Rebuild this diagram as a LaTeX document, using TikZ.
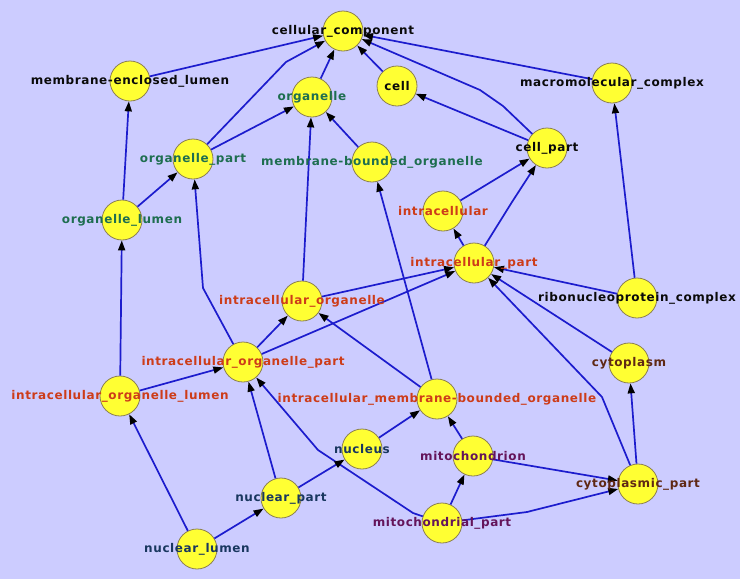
\documentclass[tikz,border=0pt]{standalone}
\usepackage{fontspec}
\newfontfamily\labfont{DejaVu Sans}[LetterSpace=5]
\usetikzlibrary{arrows.meta}
\definecolor{bg}{RGB}{204,204,255}
\definecolor{ndfill}{RGB}{255,255,51}
\definecolor{ndborder}{RGB}{140,128,80}
\definecolor{edgeblue}{RGB}{28,28,205}
\definecolor{tblack}{RGB}{10,10,10}
\definecolor{tgreen}{RGB}{30,110,80}
\definecolor{tred}{RGB}{205,60,25}
\definecolor{tblue}{RGB}{25,55,95}
\definecolor{tpurple}{RGB}{100,20,90}
\definecolor{tbrown}{RGB}{95,40,20}
\begin{document}
\begin{tikzpicture}[x=1pt,y=-1pt,
  nd/.style={circle, draw=ndborder, fill=ndfill, line width=0.8pt, minimum size=40pt, inner sep=0pt},
  lab/.style={font=\labfont\bfseries\fontsize{12}{14}\selectfont, inner sep=0pt},
  ed/.style={draw=edgeblue, line width=1.7pt, -{Triangle[length=10pt,width=7pt,color=black]}}]
\fill[bg] (0,0) rectangle (740,579);
\useasboundingbox (0,0) rectangle (740,579);
% circles
\node[nd] (cc) at (343,31) {};
\node[nd] (mel) at (130,81) {};
\node[nd] (org) at (312,97) {};
\node[nd] (cell) at (397,86) {};
\node[nd] (mmc) at (612,83) {};
\node[nd] (cp) at (547,148) {};
\node[nd] (op) at (193,159) {};
\node[nd] (mbo) at (372,162) {};
\node[nd] (ol) at (122,220) {};
\node[nd] (ic) at (443,211) {};
\node[nd] (icp) at (474,263) {};
\node[nd] (rnp) at (637,298) {};
\node[nd] (io) at (302,301) {};
\node[nd] (iop) at (243,362) {};
\node[nd] (cyt) at (629,363) {};
\node[nd] (iol) at (120,396) {};
\node[nd] (imbo) at (437,399) {};
\node[nd] (nuc) at (362,449) {};
\node[nd] (mit) at (473,456) {};
\node[nd] (np) at (281,498) {};
\node[nd] (cyp) at (638,484) {};
\node[nd] (mp) at (442,523) {};
\node[nd] (nl) at (197,549) {};
% bend points
\coordinate (b1) at (286,62);
\coordinate (b2) at (503,106);
\coordinate (b3) at (480,90);
\coordinate (b4) at (512,202);
\coordinate (b5) at (602,397);
\coordinate (b6) at (203,288);
\coordinate (b7) at (527,512);
\coordinate (b8) at (413,513);
\coordinate (b9) at (318,450);
% edges
\draw[ed] (mel) -- (cc);
\draw[ed] (op) -- (b1) -- (cc);
\draw[ed] (org) -- (cc);
\draw[ed] (cell) -- (cc);
\draw[ed] (cp) -- (b2) -- (b3) -- (cc);
\draw[ed] (mmc) -- (cc);
\draw[ed] (cp) -- (cell);
\draw[ed] (rnp) -- (mmc);
\draw[ed] (ol) -- (mel);
\draw[ed] (ol) -- (op);
\draw[ed] (op) -- (org);
\draw[ed] (mbo) -- (org);
\draw[ed] (ic) -- (cp);
\draw[ed] (icp) -- (b4) -- (cp);
\draw[ed] (icp) -- (ic);
\draw[ed] (rnp) -- (icp);
\draw[ed] (cyt) -- (icp);
\draw[ed] (cyp) -- (b5) -- (icp);
\draw[ed] (cyp) -- (cyt);
\draw[ed] (io) -- (org);
\draw[ed] (io) -- (icp);
\draw[ed] (iop) -- (io);
\draw[ed] (iop) -- (icp);
\draw[ed] (iop) -- (b6) -- (op);
\draw[ed] (iol) -- (ol);
\draw[ed] (iol) -- (iop);
\draw[ed] (imbo) -- (io);
\draw[ed] (imbo) -- (mbo);
\draw[ed] (nuc) -- (imbo);
\draw[ed] (mit) -- (imbo);
\draw[ed] (mit) -- (cyp);
\draw[ed] (mp) -- (mit);
\draw[ed] (mp) -- (b7) -- (cyp);
\draw[ed] (mp) -- (b8) -- (b9) -- (iop);
\draw[ed] (np) -- (nuc);
\draw[ed] (np) -- (iop);
\draw[ed] (nl) -- (np);
\draw[ed] (nl) -- (iol);
% labels
\node[lab, text=tblack] (cc-t) at (cc) {cellular\_component};
\node[lab, text=tblack] (mel-t) at (mel) {membrane-enclosed\_lumen};
\node[lab, text=tgreen] (org-t) at (org) {organelle};
\node[lab, text=tblack] (cell-t) at (cell) {cell};
\node[lab, text=tblack] (mmc-t) at (mmc) {macromolecular\_complex};
\node[lab, text=tblack] (cp-t) at (cp) {cell\_part};
\node[lab, text=tgreen] (op-t) at (op) {organelle\_part};
\node[lab, text=tgreen] (mbo-t) at (mbo) {membrane-bounded\_organelle};
\node[lab, text=tgreen] (ol-t) at (ol) {organelle\_lumen};
\node[lab, text=tred] (ic-t) at (ic) {intracellular};
\node[lab, text=tred] (icp-t) at (icp) {intracellular\_part};
\node[lab, text=tblack] (rnp-t) at (rnp) {ribonucleoprotein\_complex};
\node[lab, text=tred] (io-t) at (io) {intracellular\_organelle};
\node[lab, text=tred] (iop-t) at (iop) {intracellular\_organelle\_part};
\node[lab, text=tbrown] (cyt-t) at (cyt) {cytoplasm};
\node[lab, text=tred] (iol-t) at (iol) {intracellular\_organelle\_lumen};
\node[lab, text=tred] (imbo-t) at (imbo) {intracellular\_membrane-bounded\_organelle};
\node[lab, text=tblue] (nuc-t) at (nuc) {nucleus};
\node[lab, text=tpurple] (mit-t) at (mit) {mitochondrion};
\node[lab, text=tblue] (np-t) at (np) {nuclear\_part};
\node[lab, text=tbrown] (cyp-t) at (cyp) {cytoplasmic\_part};
\node[lab, text=tpurple] (mp-t) at (mp) {mitochondrial\_part};
\node[lab, text=tblue] (nl-t) at (nl) {nuclear\_lumen};
\end{tikzpicture}
\end{document}
